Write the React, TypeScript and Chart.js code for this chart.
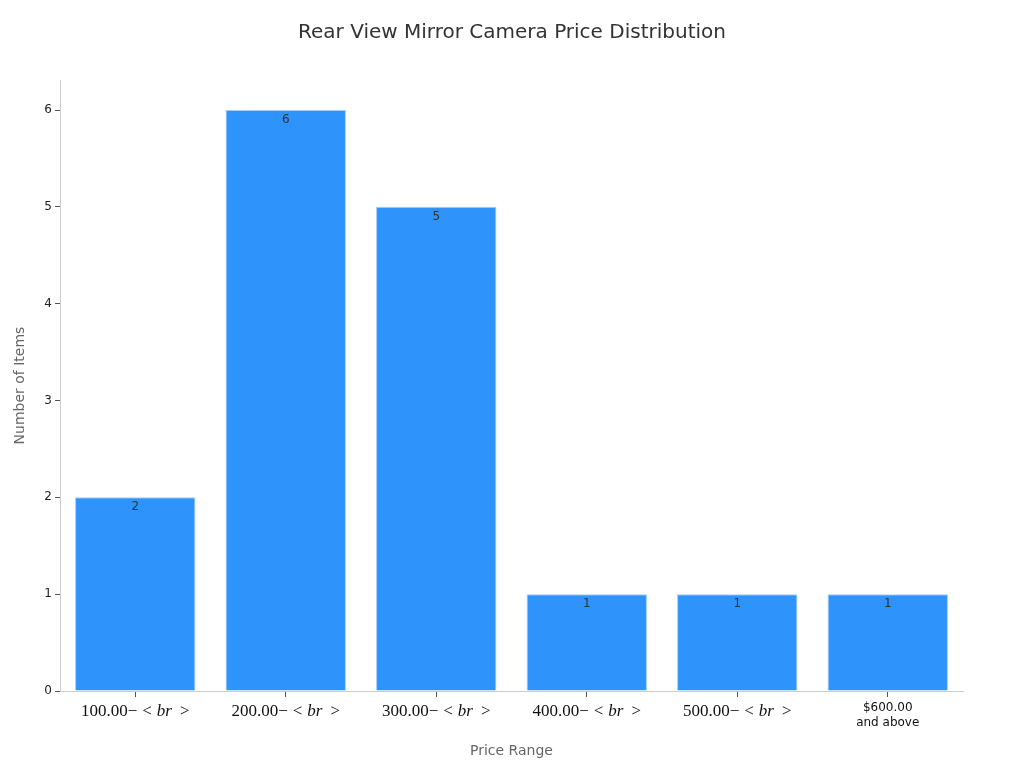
import React, { useEffect, useRef } from 'react';
import Chart from 'chart.js/auto';

const chartTitle = 'Rear View Mirror Camera Price Distribution';
const priceRanges = ['100.00', '200.00', '300.00', '400.00', '500.00', '$600.00 and above'];
const itemCounts = [2, 6, 5, 1, 1, 1];
const yTicks = [0, 1, 2, 3, 4, 5, 6];

const barColor = '#2E93FA';

// title centred on the whole canvas, not the plot area
const pageTitle = {
  id: 'pageTitle',
  afterDraw(chart: Chart) {
    const ctx = chart.ctx;
    ctx.save();
    ctx.font = '20px "DejaVu Sans", sans-serif';
    ctx.fillStyle = '#333';
    ctx.textAlign = 'center';
    ctx.textBaseline = 'middle';
    ctx.fillText(chartTitle, chart.width / 2, 33);
    ctx.restore();
  },
};

// draws the count just inside the top of each bar
const valueLabels = {
  id: 'valueLabels',
  afterDatasetsDraw(chart: Chart) {
    const ctx = chart.ctx;
    const meta = chart.getDatasetMeta(0);
    ctx.save();
    ctx.font = '12px "DejaVu Sans", sans-serif';
    ctx.fillStyle = '#333';
    ctx.textAlign = 'center';
    ctx.textBaseline = 'middle';
    meta.data.forEach((bar: any, i: number) => {
      ctx.fillText(String(itemCounts[i]), bar.x, bar.y + 10);
    });
    ctx.restore();
  },
};

// the x labels look like math text: "100.00− < br >" with italic br
const mathLabels = {
  id: 'mathLabels',
  afterDraw(chart: Chart) {
    const ctx = chart.ctx;
    const xs = chart.scales.x;
    ctx.save();
    ctx.fillStyle = '#111';
    ctx.textBaseline = 'middle';
    priceRanges.forEach((label, i) => {
      const x = xs.getPixelForValue(i);
      if (i === priceRanges.length - 1) {
        ctx.font = '12px "DejaVu Sans", sans-serif';
        ctx.textAlign = 'center';
        ctx.fillText('$600.00', x, 708);
        ctx.fillText('and above', x, 723);
        return;
      }
      const serif = '17px "Liberation Serif", serif';
      // text, font, gap after
      const parts: [string, string, number][] = [
        [label + '\u2212', serif, 5],
        ['<', serif, 5],
        ['br', 'italic ' + serif, 8],
        ['>', serif, 0],
      ];
      let total = 0;
      parts.forEach(([t, f, g]) => {
        ctx.font = f;
        total += ctx.measureText(t).width + g;
      });
      let cx = x - total / 2;
      ctx.textAlign = 'left';
      parts.forEach(([t, f, g]) => {
        ctx.font = f;
        ctx.fillText(t, cx, 712);
        cx += ctx.measureText(t).width + g;
      });
    });
    ctx.restore();
  },
};

const App: React.FC = () => {
  const canvasRef = useRef<HTMLCanvasElement>(null);

  useEffect(() => {
    document.body.style.margin = '0';
    if (!canvasRef.current) return;
    const chart = new Chart(canvasRef.current, {
      type: 'bar',
      data: {
        labels: priceRanges,
        datasets: [{
          data: itemCounts,
          backgroundColor: barColor,
          borderColor: '#9fcdfb',
          borderWidth: 1,
          barPercentage: 0.8,
          categoryPercentage: 1,
        }],
      },
      options: {
        animation: false,
        responsive: true,
        maintainAspectRatio: false,
        layout: { padding: { left: 0, right: 61, top: 80, bottom: 0 } },
        plugins: {
          legend: { display: false },
          tooltip: { enabled: false },
          title: { display: false },
        },
        scales: {
          x: {
            offset: true,
            grid: { display: true, drawOnChartArea: false, drawTicks: true, tickLength: 6, color: '#555', offset: false },
            border: { display: true, color: '#ccc' },
            ticks: { color: 'transparent', font: { size: 15 } },
            title: {
              display: true,
              text: 'Price Range',
              color: '#666',
              font: { size: 14, family: '"DejaVu Sans", sans-serif' },
              padding: { top: 4, bottom: 8 },
            },
            afterFit: (scale: any) => { scale.height = 77; },
          },
          y: {
            min: 0,
            max: 6.31,
            grid: { display: true, drawOnChartArea: false, drawTicks: true, tickLength: 5, color: '#555' },
            border: { display: true, color: '#ccc' },
            afterBuildTicks: (scale: any) => {
              scale.ticks = yTicks.map((v) => ({ value: v }));
            },
            ticks: {
              color: '#222',
              padding: 3,
              font: { size: 12, family: '"DejaVu Sans", sans-serif' },
            },
            title: {
              display: true,
              text: 'Number of Items',
              color: '#666',
              font: { size: 14, family: '"DejaVu Sans", sans-serif' },
              padding: { top: 12, bottom: 4 },
            },
            afterFit: (scale: any) => { scale.width = 60; },
          },
        },
      },
      plugins: [pageTitle, valueLabels, mathLabels],
    });
    return () => chart.destroy();
  }, []);

  return (
    <div style={{ width: 1024, height: 768, position: 'relative' }}>
      <canvas ref={canvasRef}></canvas>
    </div>
  );
};

export default App;
